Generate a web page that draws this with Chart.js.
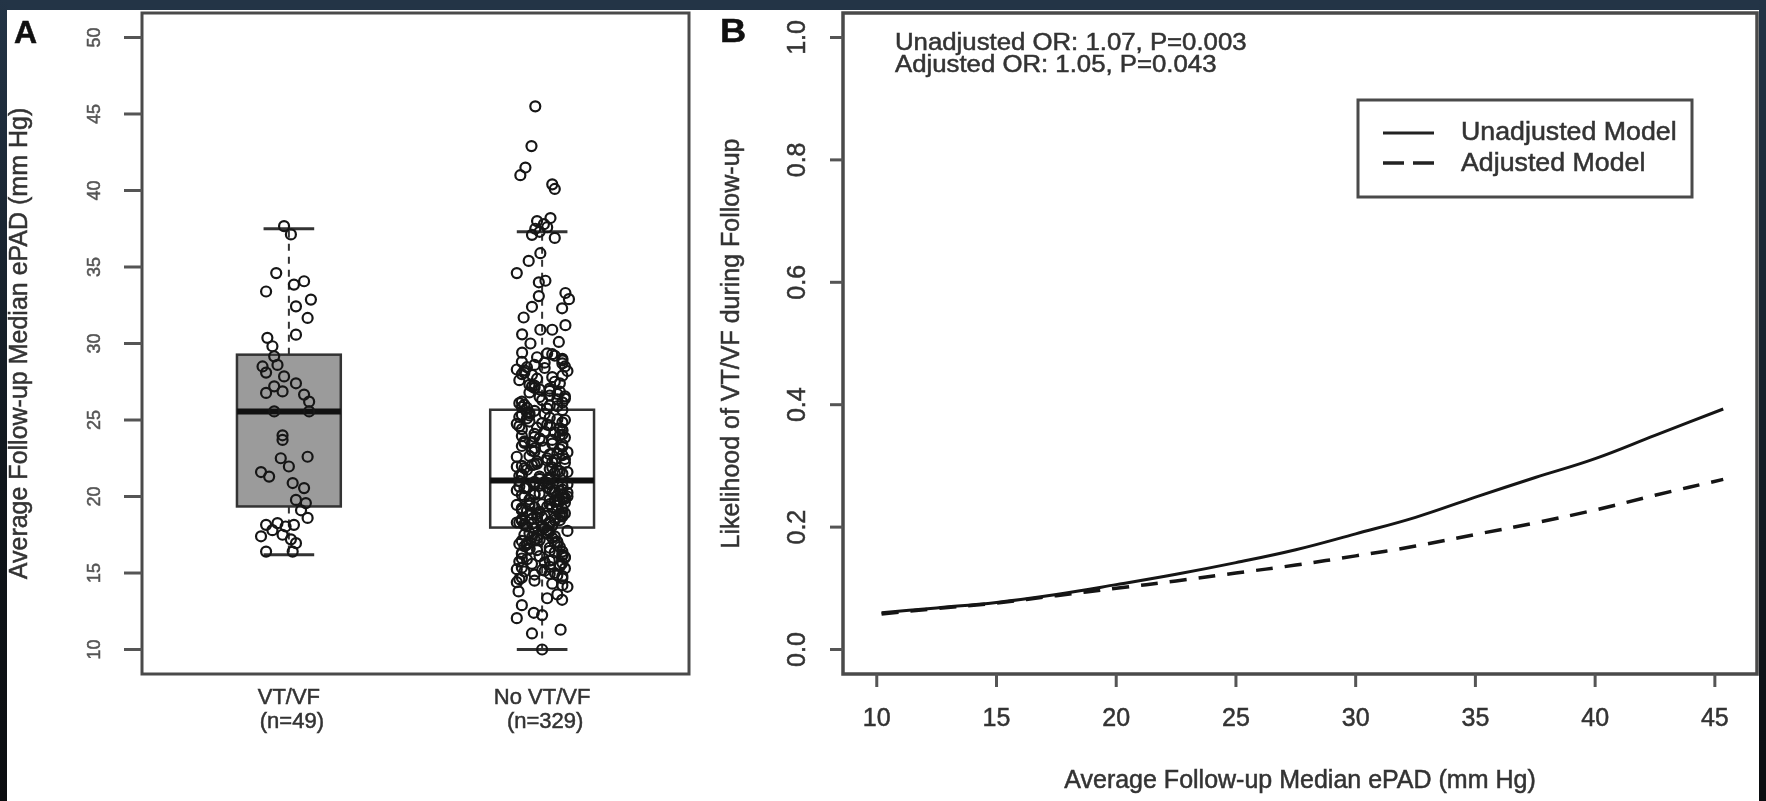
<!DOCTYPE html>
<html>
<head>
<meta charset="utf-8">
<script src="https://cdn.jsdelivr.net/npm/chart.js@4.4.1/dist/chart.umd.min.js"></script>
<style>
  html, body { margin: 0; padding: 0; background: #fff; width: 1766px; height: 801px; overflow: hidden; }
  canvas { position: absolute; top: 0; }
  .strip { position: absolute; z-index: 5; }
</style>
</head>
<body>
<canvas id="panelA" width="700" height="801" style="left:0"></canvas>
<canvas id="panelB" width="1066" height="801" style="left:700px"></canvas>
<div class="strip" style="left:0;top:0;width:1766px;height:10px;background:#233446"></div>
<div class="strip" style="left:0;top:0;width:7px;height:801px;background:linear-gradient(#233446,#10161c 60%,#0b0d10)"></div>
<div class="strip" style="left:1759px;top:0;width:7px;height:801px;background:linear-gradient(#233446,#141c24 60%,#0b0d10)"></div>
<script>
// ---- Panel A : boxplot + jittered points ----
const categories = ['VT/VF', 'No VT/VF'];
const groupSizes = ['(n=49)', '(n=329)'];
const boxQ1 = [19.35, 17.97];
const boxMedian = [25.56, 21.05];
const boxQ3 = [29.27, 25.67];
const whiskerLow = [16.2, 10.0];
const whiskerHigh = [37.5, 37.3];
const ticksA = [10, 15, 20, 25, 30, 35, 40, 45, 50];

// VT/VF values and their horizontal jitter
const vtY = [37.67, 37.13, 34.6, 33.4, 33.85, 34.07, 32.87, 32.43, 31.67, 30.58,
  30.37, 29.82, 29.16, 28.5, 28.1, 28.6, 27.85, 27.4, 27.2, 26.87,
  26.77, 26.66, 26.2, 25.56, 25.56, 24.0, 23.7, 22.5, 22.6, 21.96,
  21.6, 21.3, 20.88, 20.55, 19.78, 19.57, 18.6, 18.15, 18.26, 18.04,
  18.15, 17.4, 17.5, 17.2, 16.4, 16.4, 16.95, 17.8, 19.1];
const vtJit = [-0.019, 0.008, -0.05, -0.09, 0.02, 0.06, 0.087, 0.028, 0.074, 0.028,
  -0.085, -0.065, -0.058, -0.104, -0.09, -0.045, -0.019, 0.028, -0.058, -0.025,
  -0.09, 0.06, 0.08, -0.058, 0.08, -0.025, -0.025, -0.032, 0.074, 0,
  -0.11, -0.078, 0.015, 0.06, 0.028, 0.067, 0.074, -0.09, -0.045, -0.013,
  0.02, -0.11, -0.025, 0.008, -0.09, 0.015, 0.028, -0.065, 0.048];

// No VT/VF values and their horizontal jitter
const noY = [45.5, 42.9, 41.5, 41.0, 40.4, 40.1, 38.2, 37.8, 37.5, 37.1,
  35.9, 35.4, 34.6, 34.0, 34.1, 33.3, 32.9, 33.1, 32.3, 32.4,
  31.7, 31.2, 30.6, 30.9, 30.9, 30.0, 30.1, 29.4, 37.3, 37.6, 36.9, 38.0,
  29.3, 28.1, 26.4, 27.7, 25.9, 28.8, 26.9, 27.2, 29.0, 26.1,
  28.4, 27.9, 25.8, 26.6, 28.6, 27.4, 26.2, 29.2, 27.0, 28.2,
  26.8, 25.75, 27.6, 28.9, 26.3, 27.1, 28.5, 26.0, 27.8, 29.1,
  26.7, 28.3, 25.95, 27.3, 28.7, 26.5, 27.5, 28.0, 26.85, 29.35,
  27.25, 26.15, 28.45, 27.05, 25.85, 28.75, 26.55, 27.95, 26.35, 28.25,
  25.6, 23.1, 21.4, 24.7, 22.2, 25.1, 21.9, 23.8, 24.3, 22.6,
  21.2, 24.9, 23.4, 22.0, 25.4, 21.7, 24.1, 22.9, 23.6, 21.1,
  25.2, 22.4, 24.5, 21.5, 23.0, 24.8, 22.7, 25.5, 21.8, 23.3,
  24.0, 22.1, 25.0, 21.3, 23.7, 24.4, 22.5, 25.3, 21.6, 23.9,
  22.8, 24.6, 21.25, 23.5, 25.65, 22.3, 24.2, 21.95, 23.2, 24.85,
  22.05, 25.15, 21.45, 23.85, 22.65, 24.45, 21.15, 23.45, 25.35, 22.35,
  24.05, 21.75, 23.65, 22.95, 25.05, 21.35, 24.65, 22.15, 23.25, 21.85,
  24.25, 22.45, 25.45, 21.55, 23.95, 22.75, 24.75, 21.65, 23.15, 22.25,
  23.55, 24.35,
  20.9, 18.4, 19.7, 20.2, 18.9, 21.0, 19.3, 18.1, 20.6, 19.9,
  18.6, 20.4, 19.1, 20.8, 18.2, 19.5, 20.0, 18.8, 20.7, 19.2,
  18.3, 20.5, 19.8, 18.7, 20.1, 19.4, 18.5, 20.95, 19.6, 18.05,
  20.3, 19.0, 18.95, 20.65, 19.35, 18.45, 20.85, 19.75, 18.15, 20.25,
  19.55, 18.65, 20.45, 19.15, 18.35, 20.75, 19.85, 18.55, 20.05, 19.45,
  18.25, 20.55, 19.65, 18.85, 20.15, 19.05, 18.75, 20.35, 19.25, 18.1,
  20.95, 19.95, 18.5, 20.6, 19.4, 18.8, 20.2, 19.1, 18.3, 20.8,
  19.7, 18.9, 20.0, 19.3, 18.6, 20.4, 19.8, 18.2, 20.7, 19.5,
  18.45, 20.1,
  17.9, 16.2, 15.1, 17.3, 14.6, 16.8, 15.7, 17.6, 14.2, 16.5,
  15.4, 17.1, 16.0, 14.9, 17.8, 15.9, 16.7, 14.4, 17.4, 15.2,
  16.3, 17.7, 14.8, 15.6, 17.0, 16.1, 14.1, 17.5, 15.8, 16.9,
  15.0, 17.2, 16.4, 14.7, 17.95, 15.3, 16.6, 14.3, 17.45, 15.5,
  16.85, 17.65, 15.25, 16.15, 14.5, 17.05, 15.95, 16.45, 17.85, 15.65,
  16.05, 17.35, 14.95, 16.75, 15.45, 17.15, 16.35, 15.75, 17.55, 16.55,
  14.65, 17.25, 15.85, 16.25, 17.75, 15.15, 16.95, 14.85, 17.95, 16.65,
  15.35, 17.0,
  13.8, 13.35, 13.25, 12.05, 12.4, 12.25, 11.05, 11.3, 10.0, 13.6, 12.9];
const noJit = [-0.027, -0.042, -0.066, -0.086, 0.04, 0.05, 0.033, 0.007, -0.027, -0.04,
  -0.007, -0.053, -0.10, -0.013, 0.013, 0.092, 0.106, -0.013, 0.079, -0.04,
  -0.073, 0.092, -0.079, -0.007, 0.04, -0.046, 0.066, -0.079, -0.01, 0.02, 0.05, -0.02,
  0.04, -0.07, 0.09, -0.02, 0.06, -0.08, 0.03, -0.04, 0.08, -0.09,
  0.01, 0.08, -0.06, 0.03, -0.03, 0.07, -0.08, 0.05, -0.01, 0.10,
  -0.05, 0.02, -0.09, 0.08, 0.00, -0.03, 0.09, -0.07, 0.04, -0.02,
  0.06, -0.10, 0.03, -0.05, 0.08, -0.01, 0.05, -0.08, 0.07, 0.02,
  -0.03, 0.08, -0.06, 0.03, -0.08, 0.01, 0.09, -0.04, 0.06, -0.07,
  -0.03, 0.07, -0.08, 0.02, 0.09, -0.06, 0.04, -0.01, 0.08, -0.10,
  0.03, -0.05, 0.08, -0.08, 0.01, 0.06, -0.03, 0.10, -0.07, 0.03,
  -0.09, 0.05, -0.02, 0.08, -0.04, 0.00, 0.08, -0.06, 0.03, -0.08,
  0.07, -0.03, 0.09, -0.01, 0.04, -0.08, 0.02, -0.05, 0.10, -0.03,
  0.06, -0.09, 0.03, -0.07, 0.08, -0.02, 0.05, -0.10, 0.01, 0.08,
  -0.04, 0.03, -0.08, 0.09, -0.05, 0.07, -0.01, 0.04, -0.08, 0.02,
  0.08, -0.06, 0.00, -0.03, 0.06, -0.09, 0.03, -0.02, 0.08, -0.07,
  0.01, 0.09, -0.05, 0.05, -0.08, 0.03, -0.10, 0.07, -0.03, 0.04,
  -0.04, 0.08,
  0.02, -0.08, 0.06, -0.03, 0.09, -0.09, 0.04, 0.00, -0.06, 0.08,
  -0.02, 0.05, -0.08, 0.10, -0.04, 0.03, -0.07, 0.07, -0.01, 0.08,
  -0.10, 0.03, -0.05, 0.08, -0.03, 0.06, -0.08, 0.01, 0.09, -0.06,
  0.04, -0.01, 0.08, -0.09, 0.02, 0.07, -0.03, 0.05, -0.07, 0.10,
  -0.05, 0.00, 0.08, -0.08, 0.03, -0.03, 0.09, -0.04, 0.06, -0.10,
  0.03, -0.07, 0.05, -0.02, 0.08, -0.06, 0.01, 0.07, -0.08, 0.04,
  -0.03, 0.09, -0.08, 0.02, -0.05, 0.08, -0.01, 0.06, -0.09, 0.03,
  0.07, -0.04, 0.10, -0.03, 0.05, -0.10, 0.03, -0.07, 0.08, 0.00,
  0.05, -0.08,
  -0.03, 0.08, -0.07, 0.04, -0.09, 0.06, 0.01, -0.05, 0.08, -0.02,
  0.03, -0.08, 0.09, -0.03, 0.02, -0.06, 0.07, -0.10, 0.05, 0.00,
  -0.08, 0.03, 0.08, -0.04, 0.06, -0.01, 0.10, -0.07, 0.03, -0.09,
  0.05, -0.03, 0.08, -0.08, 0.01, 0.09, -0.05, 0.04, -0.02, 0.07,
  -0.06, 0.02, -0.10, 0.08, -0.03, 0.06, -0.08, 0.03, 0.00, 0.08,
  0.09, -0.04, 0.03, -0.07, 0.07, -0.01, 0.05, -0.09, 0.02, -0.05,
  0.08, -0.02, 0.04, -0.08, 0.10, 0.01, -0.06, 0.06, -0.03, 0.03,
  -0.08, 0.05,
  -0.093, 0.02, 0.079, -0.10, -0.033, 0.0, -0.04, 0.073, 0.0, 0.06, -0.08];

// ---- Panel B : fitted likelihood curves ----
const ePAD = [10.2, 12.5, 15, 17.5, 20, 22.5, 25, 27.5, 30, 32.5, 35, 37.5, 40, 42.5, 45.35];
const unadjusted = [0.060, 0.068, 0.077, 0.090, 0.106, 0.123, 0.142, 0.163, 0.189, 0.216, 0.249, 0.281, 0.312, 0.350, 0.393];
const adjusted = [0.058, 0.067, 0.076, 0.088, 0.100, 0.112, 0.125, 0.138, 0.153, 0.169, 0.188, 0.207, 0.228, 0.252, 0.278];
const ticksBx = [10, 15, 20, 25, 30, 35, 40, 45];
const ticksBy = [0, 0.2, 0.4, 0.6, 0.8, 1.0];
const notes = ['Unadjusted OR: 1.07, P=0.003', 'Adjusted OR: 1.05, P=0.043'];
const seriesNames = ['Unadjusted Model', 'Adjusted Model'];
const axisTitle = 'Average Follow-up Median ePAD (mm Hg)';
const likelihoodTitle = 'Likelihood of VT/VF during Follow-up';

const FONT = '"Liberation Sans", Arial, sans-serif';

function txt(ctx, s, x, y, o) {
  ctx.save();
  ctx.translate(x, y);
  ctx.scale(o.sx || 1, 1);
  if (o.rot) ctx.rotate(o.rot);
  ctx.font = (o.bold ? 'bold ' : '') + o.size + 'px ' + FONT;
  ctx.textAlign = o.align || 'center';
  ctx.textBaseline = o.base || 'middle';
  ctx.fillStyle = o.color || '#222';
  ctx.fillText(s, 0, 0);
  // trazo fino para que el texto se vea tan grueso como en la imagen
  ctx.lineWidth = 0.5;
  ctx.strokeStyle = o.color || '#222';
  ctx.strokeText(s, 0, 0);
  ctx.restore();
}

function line(ctx, x1, y1, x2, y2, w, c, dash) {
  ctx.save();
  ctx.beginPath();
  ctx.setLineDash(dash || []);
  ctx.lineWidth = w;
  ctx.strokeStyle = c;
  ctx.moveTo(x1, y1);
  ctx.lineTo(x2, y2);
  ctx.stroke();
  ctx.restore();
}

//DIBUJA LAS CAJAS DEBAJO DE LOS PUNTOS
const boxPlugin = {
  id: 'boxPlugin',
  beforeDatasetsDraw(chart) {
    const ctx = chart.ctx, x = chart.scales.x, y = chart.scales.y;
    const half = 0.205, cap = 0.1;
    for (let i = 0; i < categories.length; i++) {
      const c = i + 1;
      const l = x.getPixelForValue(c - half), r = x.getPixelForValue(c + half);
      const cx = x.getPixelForValue(c);
      const top = y.getPixelForValue(boxQ3[i]), bot = y.getPixelForValue(boxQ1[i]);
      // whiskers
      line(ctx, cx, top, cx, y.getPixelForValue(whiskerHigh[i]), 2, '#333', [7, 6]);
      line(ctx, cx, bot, cx, y.getPixelForValue(whiskerLow[i]), 2, '#333', [7, 6]);
      line(ctx, x.getPixelForValue(c - cap), y.getPixelForValue(whiskerHigh[i]),
        x.getPixelForValue(c + cap), y.getPixelForValue(whiskerHigh[i]), 3, '#333');
      line(ctx, x.getPixelForValue(c - cap), y.getPixelForValue(whiskerLow[i]),
        x.getPixelForValue(c + cap), y.getPixelForValue(whiskerLow[i]), 3, '#333');
      // box
      ctx.save();
      ctx.fillStyle = i === 0 ? '#9b9b9b' : '#ffffff';
      ctx.fillRect(l, top, r - l, bot - top);
      ctx.lineWidth = 2.5;
      ctx.strokeStyle = '#333';
      ctx.strokeRect(l, top, r - l, bot - top);
      ctx.restore();
      const m = y.getPixelForValue(boxMedian[i]);
      line(ctx, l, m, r, m, 6, '#111');
    }
  }
};

const axesA = {
  id: 'axesA',
  afterDraw(chart) {
    const ctx = chart.ctx, a = chart.chartArea, x = chart.scales.x, y = chart.scales.y;
    ctx.save();
    ctx.lineWidth = 3;
    ctx.strokeStyle = '#4a4a4a';
    ctx.strokeRect(a.left, a.top, a.right - a.left, a.bottom - a.top);
    ctx.restore();
    ticksA.forEach(t => {
      const py = y.getPixelForValue(t);
      line(ctx, a.left - 18, py, a.left, py, 3, '#555');
      txt(ctx, String(t), a.left - 47, py, { size: 18, rot: -Math.PI / 2, color: '#555' });
    });
    categories.forEach((c, i) => {
      const px = x.getPixelForValue(i + 1);
      txt(ctx, c, px, a.bottom + 24, { size: 22, color: '#333' });
      txt(ctx, groupSizes[i], px + 3, a.bottom + 48, { size: 22, color: '#333' });
    });
    txt(ctx, axisTitle, 20, (a.top + a.bottom) / 2, { size: 25, rot: -Math.PI / 2, color: '#333' });
    txt(ctx, 'A', 14, 43, { size: 32, bold: true, align: 'left', base: 'alphabetic', color: '#111' });
  }
};

new Chart(document.getElementById('panelA'), {
  type: 'scatter',
  data: {
    datasets: [
      { data: vtY.map((v, i) => ({ x: 1 + vtJit[i], y: v })) },
      { data: noY.map((v, i) => ({ x: 2 + noJit[i], y: v })) }
    ]
  },
  options: {
    responsive: false,
    animation: false,
    events: [],
    layout: { padding: { left: 142, top: 13, right: 11, bottom: 127 } },
    scales: {
      x: { type: 'linear', min: 0.42, max: 2.58, display: false },
      y: { type: 'linear', min: 8.4, max: 51.6, display: false }
    },
    elements: {
      point: { radius: 5, borderWidth: 2.2, borderColor: '#161616', backgroundColor: 'rgba(0,0,0,0)', pointStyle: 'circle' }
    },
    plugins: { legend: { display: false }, tooltip: { enabled: false } }
  },
  plugins: [boxPlugin, axesA]
});

const axesB = {
  id: 'axesB',
  afterDraw(chart) {
    const ctx = chart.ctx, a = chart.chartArea, x = chart.scales.x, y = chart.scales.y;
    ctx.save();
    ctx.lineWidth = 3.5;
    ctx.strokeStyle = '#4a4a4a';
    ctx.strokeRect(a.left, a.top, a.right - a.left, a.bottom - a.top);
    ctx.restore();
    ticksBy.forEach(t => {
      const py = y.getPixelForValue(t);
      line(ctx, a.left - 13, py, a.left, py, 3, '#555');
      txt(ctx, t.toFixed(1), a.left - 45, py, { size: 25, rot: -Math.PI / 2, color: '#333' });
    });
    ticksBx.forEach(t => {
      const px = x.getPixelForValue(t);
      line(ctx, px, a.bottom, px, a.bottom + 13, 3, '#555');
      txt(ctx, String(t), px, a.bottom + 45, { size: 25, color: '#333' });
    });
    txt(ctx, axisTitle, (a.left + a.right) / 2, a.bottom + 107, { size: 25, color: '#333' });
    txt(ctx, likelihoodTitle, 32, (a.top + a.bottom) / 2, { size: 25, rot: -Math.PI / 2, color: '#333' });
    txt(ctx, 'B', 20, 42, { size: 33, bold: true, align: 'left', base: 'alphabetic', color: '#111', sx: 1.1 });
    // notas
    notes.forEach((n, i) => {
      txt(ctx, n, a.left + 52, 50 + i * 22, { size: 23, align: 'left', base: 'alphabetic', color: '#333', sx: 1.12 });
    });
    // leyenda
    const lx = a.left + 515, ly = 100;
    ctx.save();
    ctx.fillStyle = '#fff';
    ctx.fillRect(lx, ly, 334, 97);
    ctx.lineWidth = 3;
    ctx.strokeStyle = '#4a4a4a';
    ctx.strokeRect(lx, ly, 334, 97);
    ctx.restore();
    line(ctx, lx + 25, ly + 33, lx + 76, ly + 33, 3, '#222');
    line(ctx, lx + 25, ly + 63, lx + 76, ly + 63, 3.5, '#222', [21, 9]);
    seriesNames.forEach((s, i) => {
      txt(ctx, s, lx + 103, ly + 33 + i * 31, { size: 25, align: 'left', color: '#333', sx: 1.07 });
    });
  }
};

new Chart(document.getElementById('panelB'), {
  type: 'line',
  data: {
    datasets: [
      { data: ePAD.map((v, i) => ({ x: v, y: unadjusted[i] })), borderColor: '#151515', borderWidth: 3, pointRadius: 0, tension: 0.4 },
      { data: ePAD.map((v, i) => ({ x: v, y: adjusted[i] })), borderColor: '#151515', borderWidth: 3.5, borderDash: [17, 12], pointRadius: 0, tension: 0.4 }
    ]
  },
  options: {
    responsive: false,
    animation: false,
    events: [],
    layout: { padding: { left: 143, top: 13, right: 9, bottom: 127 } },
    scales: {
      x: { type: 'linear', min: 8.59, max: 46.76, display: false },
      y: { type: 'linear', min: -0.04, max: 1.04, display: false }
    },
    plugins: { legend: { display: false }, tooltip: { enabled: false } }
  },
  plugins: [axesB]
});
</script>
</body>
</html>
